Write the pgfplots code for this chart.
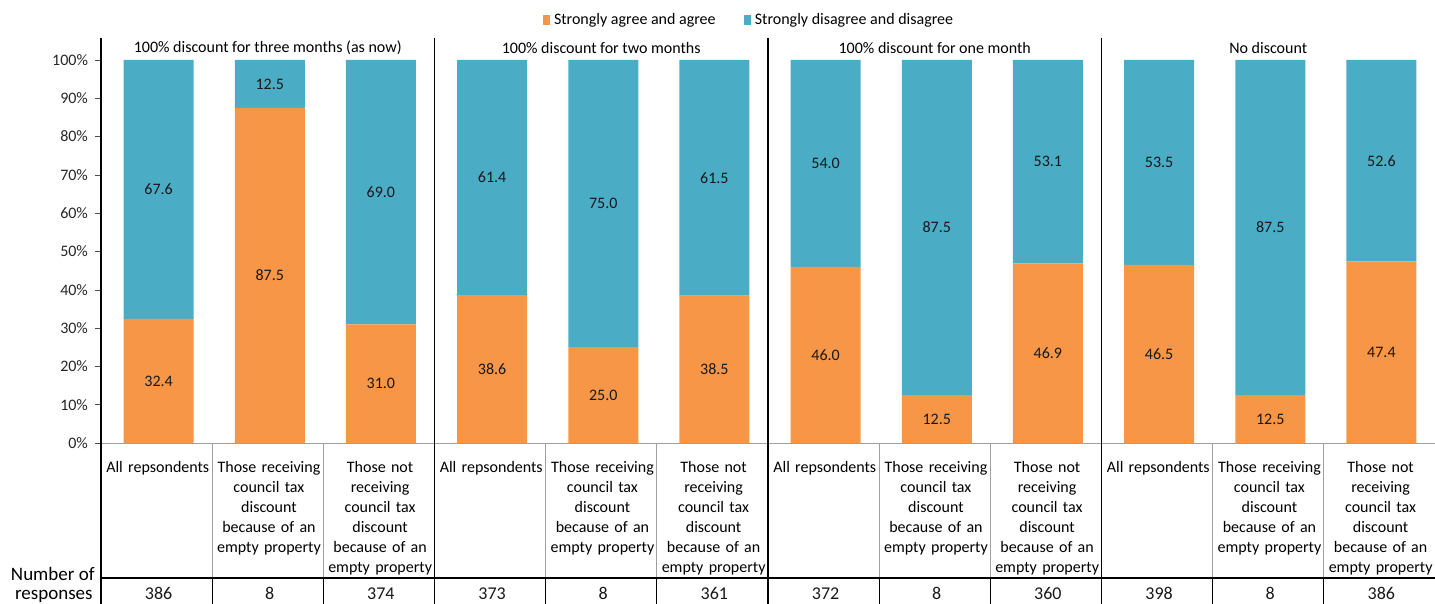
\documentclass[border=0pt]{standalone}
\usepackage{pgfplots}
\pgfplotsset{compat=1.18}
\usepackage{pgfplotstable}
\usepackage{fontspec}
\setmainfont{Carlito}
\definecolor{agreeC}{HTML}{F79646}
\definecolor{disagC}{HTML}{4BACC6}
\definecolor{sepgray}{HTML}{A0A0A0}
\pgfplotstableread{
x a b n
0 32.4 67.6 386
1 87.5 12.5 8
2 31.0 69.0 374
3 38.6 61.4 373
4 25.0 75.0 8
5 38.5 61.5 361
6 46.0 54.0 372
7 12.5 87.5 8
8 46.9 53.1 360
9 46.5 53.5 398
10 12.5 87.5 8
11 47.4 52.6 386
}\data
\newcommand{\lf}{\fontsize{8}{10}\selectfont}
\begin{document}
\begin{tikzpicture}
\begin{axis}[
  scale only axis, width=667pt, height=191.5pt,
  xmin=-0.5, xmax=11.5, ymin=0, ymax=100,
  enlargelimits=false, clip=false,
  ybar stacked, bar width=35pt,
  axis x line*=bottom, axis y line*=left,
  x axis line style={draw=sepgray, -},
  y axis line style={draw=black, -},
  xtick={0,...,11},
  xticklabels={
    {All repsondents},
    {Those receiving\\council tax\\discount\\because of an\\empty property},
    {Those not\\receiving\\council tax\\discount\\because of an\\empty property},
    {All repsondents},
    {Those receiving\\council tax\\discount\\because of an\\empty property},
    {Those not\\receiving\\council tax\\discount\\because of an\\empty property},
    {All repsondents},
    {Those receiving\\council tax\\discount\\because of an\\empty property},
    {Those not\\receiving\\council tax\\discount\\because of an\\empty property},
    {All repsondents},
    {Those receiving\\council tax\\discount\\because of an\\empty property},
    {Those not\\receiving\\council tax\\discount\\because of an\\empty property}},
  xticklabel style={font=\lf, text width=56pt, align=center, anchor=north, inner sep=0pt, yshift=-6pt, xshift=0.6pt},
  x tick style={draw=none},
  major x tick style={draw=none},
  ytick={0,10,...,100},
  yticklabel={\pgfmathprintnumber[assume math mode=true]{\tick}\%},
  yticklabel style={font=\lf, text=black!85},
  tick align=outside,
  y tick style={draw=black!70},
  major tick length=3pt,
  legend style={at={(0.4865,1.1044)}, anchor=center, draw=none, fill=none,
    legend columns=2, font=\lf,
    /tikz/every even column/.append style={column sep=12pt},
    legend cell align=left, inner sep=0pt},
  legend image code/.code={\path[#1,draw=none] (0pt,-2.4pt) rectangle (3.6pt,2.6pt);},
]
\addplot[fill=agreeC, draw=none, bar shift=1pt] table[x=x, y=a] {\data};
\addlegendentry{Strongly agree and agree}
\addplot[fill=disagC, draw=none, bar shift=1pt] table[x=x, y=b] {\data};
\addlegendentry{Strongly disagree and disagree}
\end{axis}
\begin{axis}[
  scale only axis, width=667pt, height=191.5pt,
  xmin=-0.5, xmax=11.5, ymin=0, ymax=100,
  enlargelimits=false, clip=false, hide axis,
  nodes near coords,
  every node near coord/.append style={anchor=center, font=\lf, text=black!90, xshift=1pt},
]
\addplot[draw=none, point meta=explicit,
  nodes near coords={\pgfmathprintnumber[fixed,fixed zerofill,precision=1,assume math mode=true]{\pgfplotspointmeta}}]
  table[x=x, y expr=\thisrow{a}/2, meta=a] {\data};
\addplot[draw=none, point meta=explicit,
  nodes near coords={\pgfmathprintnumber[fixed,fixed zerofill,precision=1,assume math mode=true]{\pgfplotspointmeta}}]
  table[x=x, y expr=\thisrow{a}+\thisrow{b}/2, meta=b] {\data};
\addplot[draw=none, point meta=explicit,
  nodes near coords={\pgfmathprintnumber[assume math mode=true]{\pgfplotspointmeta}},
  every node near coord/.append style={font=\fontsize{9}{11}\selectfont}]
  table[x=x, y expr=-39.3, meta=n] {\data};
\end{axis}
% table lines
\def\cw{55.5833}
\draw[black, line width=0.7pt] (0pt,202.5pt) -- (0pt,-80.5pt);
\foreach \k in {3,6,9} {\draw[black, line width=0.7pt] (\k*\cw pt,202.5pt) -- (\k*\cw pt,-80.5pt);}
\foreach \k in {1,2,4,5,7,8,10,11} {
  \draw[sepgray, line width=0.6pt] (\k*\cw pt,0pt) -- (\k*\cw pt,-67.5pt);
  \draw[black, line width=0.6pt] (\k*\cw pt,-67.5pt) -- (\k*\cw pt,-80.5pt);}
\draw[black, line width=0.7pt] (0pt,-67.5pt) -- (667pt,-67.5pt);
% group labels
\node[font=\lf] at (1.5*\cw pt,197.5pt) {100\% discount for three months (as now)};
\node[font=\lf] at (4.5*\cw pt,197.5pt) {100\% discount for two months};
\node[font=\lf] at (7.5*\cw pt,197.5pt) {100\% discount for one month};
\node[font=\lf] at (10.5*\cw pt,197.5pt) {No discount};
\node[font=\fontsize{9.5}{11}\selectfont, anchor=east, inner sep=0pt] at (-3pt,-65.5pt) {Number of};
\node[font=\fontsize{9.5}{11}\selectfont, anchor=east, inner sep=0pt] at (-4pt,-76.5pt) {responses};
\pgfresetboundingbox
\useasboundingbox (-50.5pt,-80.5pt) rectangle (667pt,221.5pt);
\end{tikzpicture}
\end{document}
